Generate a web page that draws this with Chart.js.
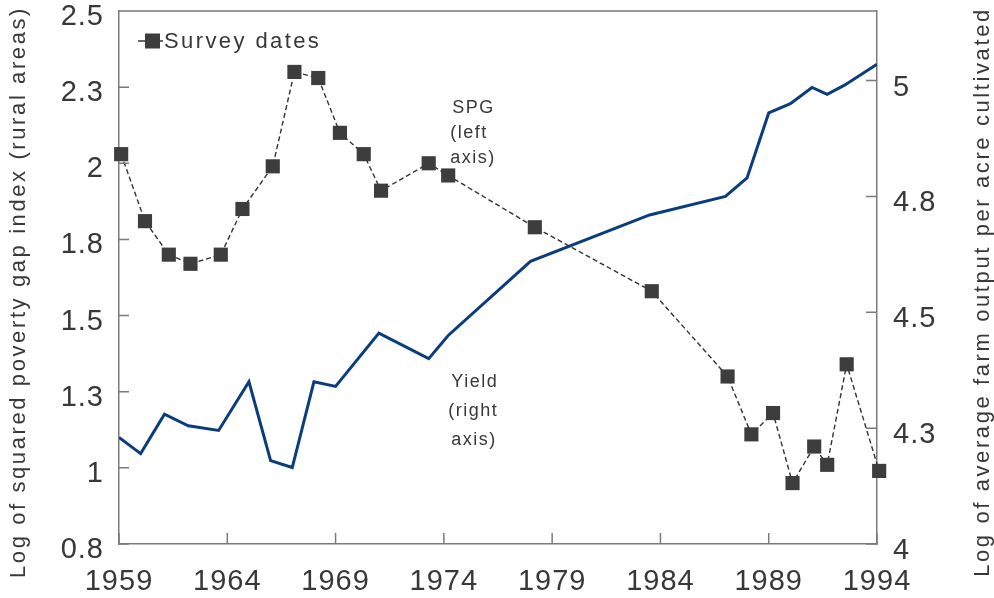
<!DOCTYPE html>
<html>
<head>
<meta charset="utf-8">
<script src="https://cdn.jsdelivr.net/npm/chart.js@4.4.1/dist/chart.umd.min.js"></script>
<style>
  body { margin: 0; background: #fff; }
  #wrap { width: 994px; height: 598px; }
</style>
</head>
<body>
<div id="wrap"><canvas id="myChart" width="994" height="598"></canvas></div>
<script>
// survey dates and squared poverty gap (left axis)
var surveyYears = [1959.1, 1960.2, 1961.3, 1962.3, 1963.7, 1964.7, 1966.1, 1967.1, 1968.2, 1969.2, 1970.3, 1971.1,
                   1973.3, 1974.2, 1978.2, 1983.6, 1987.1, 1988.2, 1989.2, 1990.1, 1991.1, 1991.7, 1992.6, 1994.1];
var spgValues = [2.08, 1.86, 1.75, 1.72, 1.75, 1.90, 2.04, 2.35, 2.33, 2.15, 2.08, 1.96,
                 2.05, 2.01, 1.84, 1.63, 1.35, 1.16, 1.23, 1.00, 1.12, 1.06, 1.39, 1.04];

// farm output per acre (right axis)
var yieldYears = [1959, 1960, 1961.1, 1962.2, 1963.6, 1965, 1966, 1967, 1968, 1969, 1971, 1973.3,
                  1974.2, 1978, 1983.5, 1987, 1988, 1989, 1990, 1991, 1991.7, 1992.5, 1994];
var yieldValues = [4.23, 4.195, 4.28, 4.255, 4.245, 4.35, 4.18, 4.165, 4.35, 4.34, 4.455, 4.40,
                   4.45, 4.61, 4.71, 4.75, 4.79, 4.93, 4.95, 4.985, 4.97, 4.99, 5.035];

// tick labels
var xTickLabels = ['1959', '1964', '1969', '1974', '1979', '1984', '1989', '1994'];
var leftTickLabels = ['0.8', '1', '1.3', '1.5', '1.8', '2', '2.3', '2.5'];
var rightTickLabels = ['4', '4.3', '4.5', '4.8', '5'];

var leftTitle = 'Log of squared poverty gap index (rural areas)';
var rightTitle = 'Log of average farm output per acre cultivated';
var spgNote = ['SPG', '(left', 'axis)'];
var yieldNote = ['Yield', '(right', 'axis)'];

var textColor = '#383838';
var axisColor = '#7a7a7a';
var fontFamily = '"Liberation Sans", Arial, sans-serif';

var spgPoints = surveyYears.map(function (yr, i) { return { x: yr, y: spgValues[i] }; });
var yieldPoints = yieldYears.map(function (yr, i) { return { x: yr, y: yieldValues[i] }; });

// frame, inward ticks, titles, legend and notes
var extras = {
    id: 'extras',
    beforeDraw: function (chart) {
        chart.ctx.letterSpacing = '1px';
    },
    afterDraw: function (chart) {
        var ctx = chart.ctx, a = chart.chartArea;
        var xs = chart.scales.x, yl = chart.scales.yLeft, yr = chart.scales.yRight;
        ctx.save();
        ctx.strokeStyle = axisColor;
        ctx.lineWidth = 1.5;
        ctx.beginPath();
        ctx.moveTo(a.left, a.top);
        ctx.lineTo(a.right, a.top);
        xs.ticks.forEach(function (t) {
            var px = xs.getPixelForValue(t.value);
            ctx.moveTo(px, a.bottom);
            ctx.lineTo(px, a.bottom - 11);
        });
        yl.ticks.forEach(function (t) {
            var py = yl.getPixelForValue(t.value);
            ctx.moveTo(a.left, py);
            ctx.lineTo(a.left + 10, py);
        });
        yr.ticks.forEach(function (t) {
            var py = yr.getPixelForValue(t.value);
            ctx.moveTo(a.right, py);
            ctx.lineTo(a.right - 11, py);
        });
        ctx.stroke();

        // axis titles
        ctx.fillStyle = textColor;
        ctx.font = '22px ' + fontFamily;
        ctx.letterSpacing = '2.6px';
        ctx.textAlign = 'center';
        ctx.textBaseline = 'middle';
        [[19, leftTitle], [983, rightTitle]].forEach(function (t) {
            ctx.save();
            ctx.translate(t[0], 292);
            ctx.rotate(-Math.PI / 2);
            ctx.fillText(t[1], 0, 0);
            ctx.restore();
        });

        // legend
        var ds = chart.data.datasets[0];
        ctx.strokeStyle = ds.borderColor;
        ctx.lineWidth = 1.5;
        ctx.beginPath();
        ctx.moveTo(138, 41);
        ctx.lineTo(163, 41);
        ctx.stroke();
        ctx.fillStyle = ds.pointBackgroundColor;
        ctx.fillRect(145, 33.5, 15, 15);
        ctx.fillStyle = textColor;
        ctx.textAlign = 'left';
        ctx.letterSpacing = '2.4px';
        ctx.fillText(ds.label, 164, 42);

        // notes beside the lines
        ctx.font = '18px ' + fontFamily;
        ctx.letterSpacing = '1.5px';
        var nx = xs.getPixelForValue(1974.3);
        var sy = yl.getPixelForValue(2.23);
        spgNote.forEach(function (s, i) { ctx.fillText(s, nx + (i === 0 ? 2 : 0), sy + i * 25); });
        var vy = yr.getPixelForValue(4.35);
        yieldNote.forEach(function (s, i) { ctx.fillText(s, nx + (i === 1 ? -2 : 1), vy + i * 29); });
        ctx.restore();
    }
};

var ctx = document.getElementById('myChart').getContext('2d');
var myChart = new Chart(ctx, {
    type: 'line',
    data: {
        datasets: [
            {
                label: 'Survey dates',
                data: spgPoints,
                yAxisID: 'yLeft',
                borderColor: '#333333',
                borderWidth: 1.4,
                borderDash: [5, 3],
                pointStyle: 'rect',
                pointRadius: 10,
                pointBackgroundColor: '#3d3d3d',
                pointBorderWidth: 0,
                clip: false,
                order: 1
            },
            {
                label: 'Yield',
                data: yieldPoints,
                yAxisID: 'yRight',
                borderColor: '#0b3d7c',
                borderWidth: 3,
                pointRadius: 0,
                tension: 0,
                order: 2
            }
        ]
    },
    options: {
        responsive: false,
        animation: false,
        layout: { padding: { top: 11, left: 0, right: 0, bottom: 0 } },
        plugins: {
            legend: { display: false },
            tooltip: { enabled: false }
        },
        scales: {
            x: {
                type: 'linear',
                min: 1959,
                max: 1994,
                grid: { display: false, drawTicks: false },
                border: { display: true, color: axisColor, width: 1.5 },
                ticks: {
                    stepSize: 5,
                    padding: 21,
                    maxRotation: 0,
                    autoSkip: false,
                    color: textColor,
                    font: { family: fontFamily, size: 29 },
                    callback: function (v, i) { return xTickLabels[i]; }
                },
                afterFit: function (s) { s.height = 54; s.paddingLeft = 0; s.paddingRight = 0; }
            },
            yLeft: {
                position: 'left',
                min: 0.8,
                max: 2.55,
                grid: { display: false, drawTicks: false },
                border: { display: true, color: axisColor, width: 1.5 },
                ticks: {
                    stepSize: 0.25,
                    padding: 15,
                    labelOffset: 6,
                    color: textColor,
                    font: { family: fontFamily, size: 29 },
                    callback: function (v, i) { return leftTickLabels[i]; }
                },
                afterFit: function (s) { s.width = 119; s.paddingTop = 0; s.paddingBottom = 0; }
            },
            yRight: {
                position: 'right',
                min: 4,
                max: 5.15,
                grid: { display: false, drawTicks: false },
                border: { display: true, color: axisColor, width: 1.5 },
                ticks: {
                    stepSize: 0.25,
                    includeBounds: false,
                    padding: 16,
                    labelOffset: 7,
                    color: textColor,
                    font: { family: fontFamily, size: 29 },
                    callback: function (v, i) { return rightTickLabels[i]; }
                },
                afterFit: function (s) { s.width = 117; s.paddingTop = 0; s.paddingBottom = 0; }
            }
        }
    },
    plugins: [extras]
});
</script>
</body>
</html>
